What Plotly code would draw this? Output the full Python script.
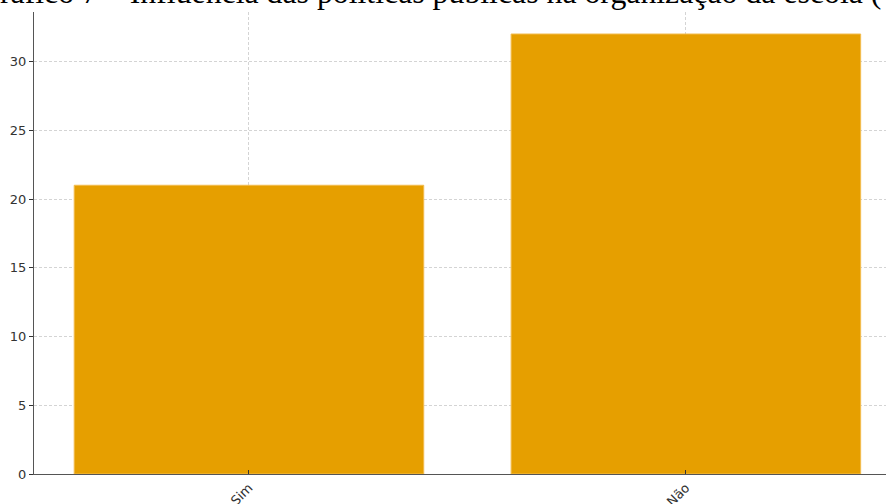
import plotly.graph_objects as go

categories = ["Sim", "Não"]
values = [21, 32]
y_ticks = [0, 5, 10, 15, 20, 25, 30]
title_text = "Gráfico 7 – Influência das políticas públicas na organização da escola ("

fig = go.Figure()
fig.add_trace(go.Bar(
    x=categories, y=values, width=0.8,
    marker=dict(color="#E69F00", line=dict(color="#F2BC4E", width=1)),
))

fig.update_layout(
    width=886, height=504,
    margin=dict(l=34, r=0, t=12, b=30, autoexpand=False),
    paper_bgcolor="white", plot_bgcolor="white",
    showlegend=False,
    font=dict(family="DejaVu Sans", size=13, color="#333333"),
)
fig.update_xaxes(
    type="category", range=[-0.492, 1.458], automargin=False,
    showgrid=True, gridcolor="#d4d4d4", griddash="3px,2px", gridwidth=0.8,
    showline=True, linecolor="#555555", linewidth=1.2,
    ticks="inside", ticklen=4, tickcolor="#333333",
    tickangle=-45, tickfont=dict(size=13, color="#333333"),
)
fig.update_yaxes(
    range=[0, 33.6], tickvals=y_ticks, automargin=False,
    showgrid=True, gridcolor="#d4d4d4", griddash="3px,2px", gridwidth=0.8,
    showline=True, linecolor="#555555", linewidth=1.2,
    ticks="outside", ticklen=4, tickcolor="#333333",
    zeroline=False, tickfont=dict(size=13, color="#333333"),
)
fig.add_annotation(
    text=title_text, xref="paper", yref="paper",
    x=0.9965, y=1.0, xanchor="right", yanchor="bottom",
    showarrow=False,
    font=dict(family="Liberation Serif", size=31.8, color="black"),
)
fig.write_html(
    "out.html",
    config={"displayModeBar": False},
    post_script="document.body.style.margin='0';document.body.style.padding='0';",
)
